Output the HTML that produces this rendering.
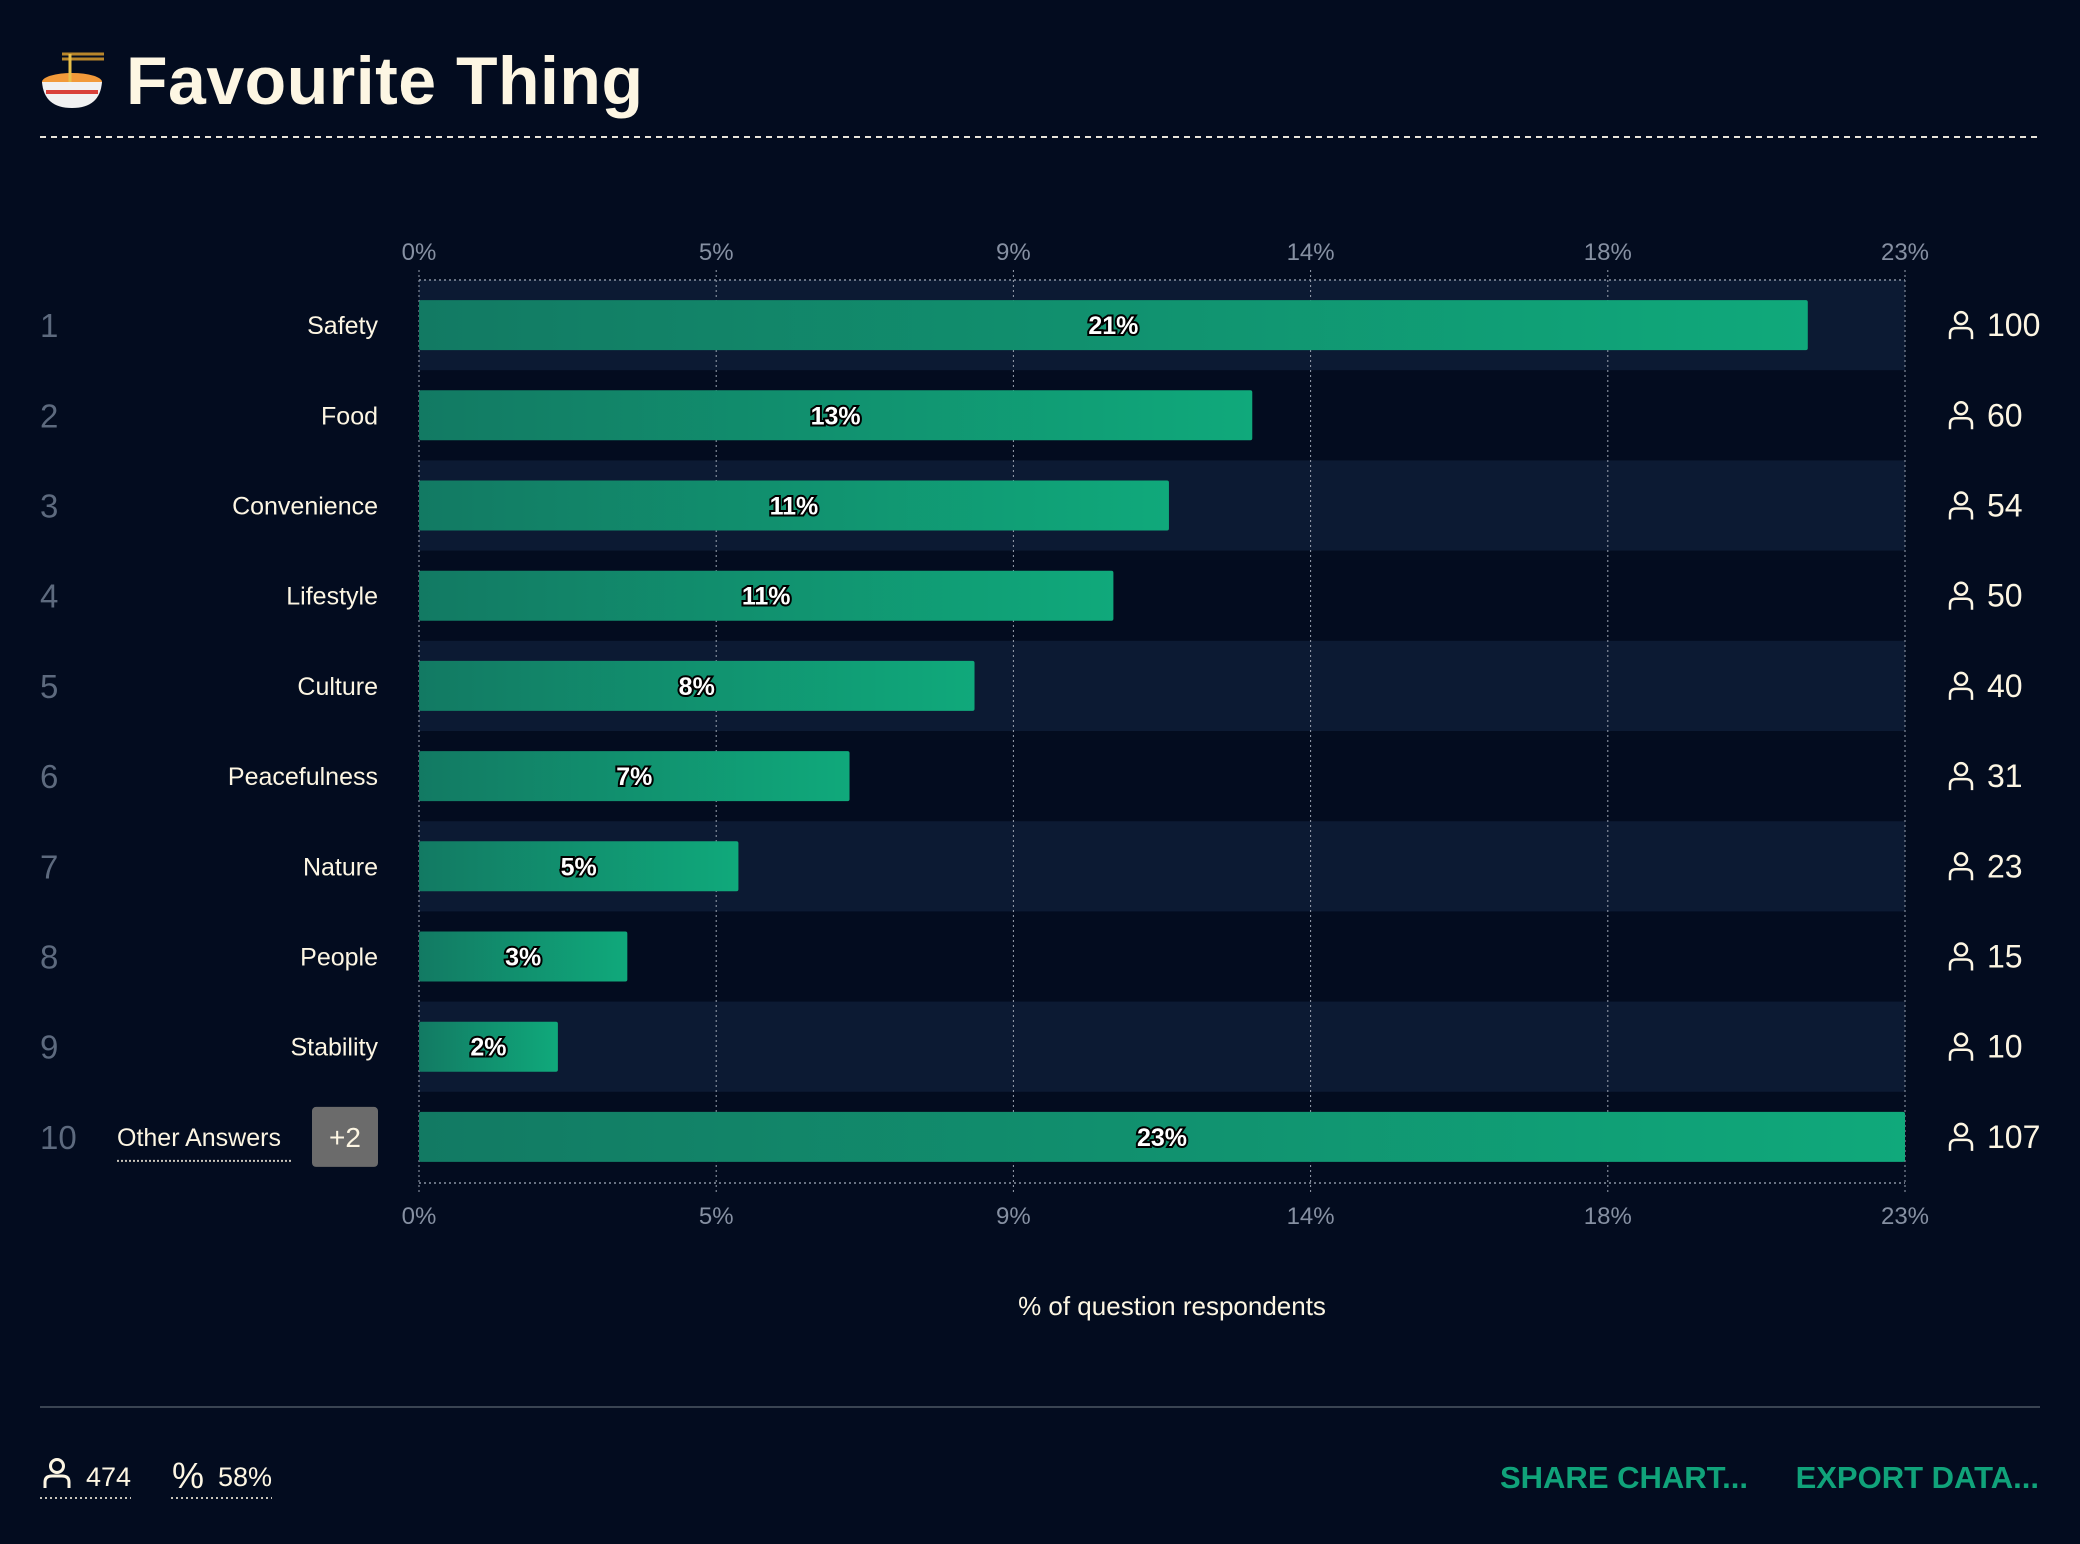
<!DOCTYPE html>
<html><head><meta charset="utf-8">
<style>
html,body{margin:0;padding:0;background:#030c1f;}
body{width:2080px;height:1544px;overflow:hidden;position:relative;font-family:"Liberation Sans",sans-serif;}
svg{position:absolute;left:0;top:0;}
</style></head>
<body>
<svg id="chart" width="2080" height="1544" viewBox="0 0 2080 1544" xmlns="http://www.w3.org/2000/svg">
<defs>
<linearGradient id="barg" x1="0" x2="1" y1="0" y2="0">
<stop offset="0" stop-color="#127a63"/><stop offset="1" stop-color="#10a97b"/>
</linearGradient>
</defs>
<g>
<g>
<ellipse cx="72" cy="82" rx="30" ry="9" fill="#f29a3a"/>
<path d="M42 82 Q44 108 72 108 Q100 108 102 82 Z" fill="#f1f1f1"/>
<rect x="46" y="90" width="52" height="4" fill="#d9413a"/>
<line x1="62" y1="54" x2="104" y2="54" stroke="#b8862b" stroke-width="3"/>
<line x1="62" y1="59" x2="104" y2="59" stroke="#b8862b" stroke-width="3"/>
<line x1="70" y1="54" x2="70" y2="82" stroke="#e8c04a" stroke-width="3"/>
</g>
<text x="126" y="104" font-size="68" font-weight="bold" fill="#fdf6e3" letter-spacing="0.5">Favourite Thing</text>
<line x1="40" y1="137" x2="2040" y2="137" stroke="#e8e4da" stroke-width="2" stroke-dasharray="6,5"/>
</g>
<g id="plot"></g>
<text x="1172" y="1315" font-size="26" fill="#fdf6e3" text-anchor="middle">% of question respondents</text>
<line x1="40" y1="1407" x2="2040" y2="1407" stroke="#3a4452" stroke-width="2"/>
<g>
<circle cx="57" cy="1466" r="6.5" fill="none" stroke="#fdf6e3" stroke-width="3"/>
<path d="M45 1488 V1482 Q45 1476 52 1476 H62 Q69 1476 69 1482 V1488" fill="none" stroke="#fdf6e3" stroke-width="3"/>
<text x="86" y="1486" font-size="27" fill="#fdf6e3">474</text>
<line x1="40" y1="1498" x2="131" y2="1498" stroke="#c8c4ba" stroke-width="2" stroke-dasharray="2,3"/>
</g>
<g>
<text x="172" y="1488" font-size="36" fill="#fdf6e3">%</text>
<text x="218" y="1486" font-size="27" fill="#fdf6e3">58%</text>
<line x1="171" y1="1498" x2="272" y2="1498" stroke="#c8c4ba" stroke-width="2" stroke-dasharray="2,3"/>
</g>
<text x="1748" y="1488" font-size="31" font-weight="bold" fill="#10a37a" text-anchor="end">SHARE CHART...</text>
<text x="2039" y="1488" font-size="31" font-weight="bold" fill="#10a37a" text-anchor="end">EXPORT DATA...</text>
</svg>
<script>
const categories=["Safety","Food","Convenience","Lifestyle","Culture","Peacefulness","Nature","People","Stability","Other Answers"];
const counts=[100,60,54,50,40,31,23,15,10,107];
const totalRespondents=474;
const tickLabels=["0%","5%","9%","14%","18%","23%"];

const NS="http://www.w3.org/2000/svg";
const plot=document.getElementById('plot');
const X0=419,X1=1905,TOP=280,ROWH=90.2;
const maxPct=Math.max(...counts)/totalRespondents*100;
const x=p=>X0+(p/maxPct)*(X1-X0);
const yc=i=>TOP+ROWH*i+ROWH/2;
function mk(tag,attrs,parent){const e=document.createElementNS(NS,tag);for(const k in attrs)e.setAttribute(k,attrs[k]);(parent||plot).appendChild(e);return e;}
const n=categories.length;
const BOT=TOP+ROWH*n+1;
categories.forEach((c,i)=>{if(i%2===0){const r=mk('rect',{x:X0,y:TOP+ROWH*i,width:X1-X0,height:ROWH,fill:'#0c1a33'});

}});
tickLabels.forEach((t,k)=>{const gx=X0+(X1-X0)*k/(tickLabels.length-1);
const g=mk('line',{x1:gx,y1:TOP-10,x2:gx,y2:BOT+10,stroke:'#9aa2b0','stroke-width':1,'stroke-dasharray':'2,3'});


const a=mk('text',{x:gx,y:260,'font-size':24,fill:'#8690a2','text-anchor':'middle'});a.textContent=t;


const b=mk('text',{x:gx,y:1224,'font-size':24,fill:'#8690a2','text-anchor':'middle'});b.textContent=t;

});
mk('line',{x1:X0,y1:TOP,x2:X1,y2:TOP,stroke:'#8a93a3','stroke-width':1.5,'stroke-dasharray':'2,3'});
mk('line',{x1:X0,y1:BOT,x2:X1,y2:BOT,stroke:'#8a93a3','stroke-width':1.5,'stroke-dasharray':'2,3'});
categories.forEach((c,i)=>{
const cy=yc(i);const pct=counts[i]/totalRespondents*100;
const rk=mk('text',{x:40,y:cy+12,'font-size':33,fill:'#5d6a7e'});rk.textContent=String(i+1);


if(i<n-1){const l=mk('text',{x:378,y:cy+9,'font-size':25,fill:'#fdf6e3','text-anchor':'end'});l.textContent=c;

}
else{const l=mk('text',{x:117,y:cy+9,'font-size':25,fill:'#fdf6e3'});l.textContent=c;


mk('line',{x1:117,y1:cy+24,x2:292,y2:cy+24,stroke:'#c8c4ba','stroke-width':2,'stroke-dasharray':'2,2'});
const bd=mk('rect',{x:312,y:cy-30,width:66,height:60,rx:4,fill:'#6b6b6b'});


const bt=mk('text',{x:345,y:cy+10,'font-size':28,fill:'#fdf6e3','text-anchor':'middle'});bt.textContent='+2';

}
const bar=mk('rect',{x:X0,y:cy-25,width:x(pct)-X0,height:50,rx:2,fill:'url(#barg)'});


const vl=mk('text',{x:(X0+x(pct))/2,y:cy+9,'font-size':25,'font-weight':'bold',fill:'#ffffff',stroke:'#000',
'stroke-width':4,'paint-order':'stroke','text-anchor':'middle'});vl.textContent=Math.round(pct)+'%';


const ic=mk('g',{});


mk('circle',{cx:1961,cy:cy-7,r:6,fill:'none',stroke:'#fdf6e3','stroke-width':2.5},ic);
mk('path',{d:`M1950 ${cy+14} V${cy+9} Q1950 ${cy+3} 1956 ${cy+3} H1966 Q1972 ${cy+3} 1972 ${cy+9} V${cy+14}`,fill:'none',stroke:'#fdf6e3','stroke-width':2.5},ic);
const ct=mk('text',{x:1987,y:cy+11,'font-size':32,fill:'#fdf6e3'});ct.textContent=String(counts[i]);


});
</script>
</body></html>
